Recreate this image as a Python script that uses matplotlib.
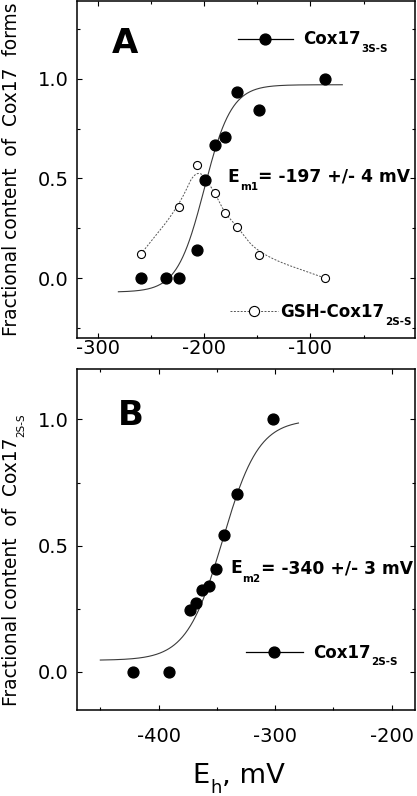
import numpy as np
import matplotlib
matplotlib.use('Agg')
import matplotlib.pyplot as plt
from matplotlib.lines import Line2D
from matplotlib.ticker import MultipleLocator, FormatStrFormatter

plt.rcParams['font.family'] = ['DejaVu Sans']
plt.rcParams['axes.unicode_minus'] = False

# ---------------- data ----------------
# Panel A
eh_a = [-260, -236, -224, -207, -199, -190, -181, -169, -148.5, -86]
cox17_3ss = [0.0, 0.0, 0.0, 0.14, 0.49, 0.667, 0.71, 0.933, 0.843, 1.0]
eh_a_gsh = [-260, -224, -207, -190, -181, -169, -148.5, -86]
gsh_cox17_2ss = [0.12, 0.358, 0.567, 0.428, 0.328, 0.258, 0.117, 0.0]
# Nernst fit parameters (panel A)
fit_a_em, fit_a_slope, fit_a_bottom, fit_a_top = -200.0, 12.8, -0.07, 0.97
fit_a_range = (-281, -70)

# Panel B
eh_b = [-422, -391, -373, -367.5, -362.5, -356.5, -351, -343.5, -333, -301.5]
cox17_2ss = [0.0, 0.0, 0.246, 0.271, 0.324, 0.339, 0.409, 0.541, 0.703, 1.0]
fit_b_em, fit_b_slope, fit_b_bottom, fit_b_top = -345.0, 15.5, 0.045, 1.0
fit_b_range = (-450, -280)

xticks_a = [-300, -200, -100]
xticks_b = [-400, -300, -200]
yticks_a = [0.0, 0.5, 1.0]
yticks_b = [0.0, 0.5, 1.0]


def nernst(e, em, s, lo, hi):
    return lo + (hi - lo) / (1.0 + np.exp(-(e - em) / s))


def bspline2(x, y, n=40):
    P = np.column_stack([x, y]).astype(float)
    Q = np.vstack([P[0], P, P[-1]])
    t = np.linspace(0, 1, n)[:, None]
    out = []
    for i in range(len(Q) - 2):
        A, B, C = Q[i], Q[i + 1], Q[i + 2]
        seg = 0.5 * (1 - t) ** 2 * A + (-t ** 2 + t + 0.5) * B + 0.5 * t ** 2 * C
        out.append(seg)
    out = np.vstack(out)
    return out[:, 0], out[:, 1]


def sub_text(ax, x, y, main, sub, rest, fs, sfs, drop, weight):
    t1 = ax.text(x, y, main, transform=ax.transAxes, fontsize=fs,
                 fontweight=weight, va='baseline', ha='left')
    t2 = ax.annotate(sub, xy=(1, y), xycoords=(t1, ax.transAxes),
                     xytext=(0.3, -drop), textcoords='offset points',
                     fontsize=sfs, fontweight=weight, va='baseline', ha='left',
                     annotation_clip=False)
    if rest:
        ax.annotate(rest, xy=(1, y), xycoords=(t2, ax.transAxes),
                    xytext=(0.3, 0), textcoords='offset points',
                    fontsize=fs, fontweight=weight, va='baseline', ha='left',
                    annotation_clip=False)


def legend_sub(ax, leg, sub, sfs, off):
    t = leg.get_texts()[0]
    ax.annotate(sub, xy=(1, 0), xycoords=t, xytext=(0.3, off),
                textcoords='offset points', fontsize=sfs, fontweight='bold',
                va='baseline', ha='left', annotation_clip=False, zorder=20)


W, H = 417, 796
fig = plt.figure(figsize=(W / 100, H / 100), dpi=100)
axA = fig.add_axes([77 / W, 1 - 338 / H, 338 / W, 337 / H])
axB = fig.add_axes([77 / W, 1 - 709.5 / H, 338 / W, 340.5 / H])

TICK_FS = 14
FILL_MS = 7.8
OPEN_MS = 5.8
CURVE_C = '#3a3a3a'
LEG_FS = 12
LEG_SFS = 7.5
YL_FS = 13.4

for ax in (axA, axB):
    for sp in ax.spines.values():
        sp.set_linewidth(1.1)
    ax.tick_params(which='both', direction='in', top=True, right=True,
                   width=0.8, labelsize=TICK_FS)
    ax.tick_params(which='major', length=3.8)
    ax.tick_params(which='minor', length=2.2)
    ax.tick_params(axis='y', pad=6)

# ---------- Panel A ----------
ea = np.linspace(*fit_a_range, 300)
axA.plot(ea, nernst(ea, fit_a_em, fit_a_slope, fit_a_bottom, fit_a_top),
         color=CURVE_C, lw=0.8)
sx, sy = bspline2(eh_a_gsh, gsh_cox17_2ss)
axA.plot(sx, sy, color='#555555', lw=0.7, ls=(0, (2, 1.5)))
axA.plot(eh_a, cox17_3ss, 'o', color='black', ms=FILL_MS, mec='black')
axA.plot(eh_a_gsh, gsh_cox17_2ss, 'o', mfc='white', mec='black',
         ms=OPEN_MS, mew=0.8)
axA.set_xlim(-320, -1.5)
axA.set_ylim(-0.3, 1.39)
axA.set_xticks(xticks_a)
axA.set_yticks(yticks_a)
axA.xaxis.set_minor_locator(MultipleLocator(50))
axA.yaxis.set_minor_locator(MultipleLocator(0.25))
axA.yaxis.set_major_formatter(FormatStrFormatter('%.1f'))
axA.tick_params(axis='x', pad=1.0)
axA.set_ylabel('Fractional content  of  Cox17  forms', fontsize=YL_FS)
axA.yaxis.set_label_coords(-0.165, 0.5)

axA.text(0.104, 0.846, 'A', transform=axA.transAxes, fontsize=24.5,
         fontweight='bold', va='baseline', ha='left')
sub_text(axA, 0.446, 0.464, 'E', 'm1', '= -197 +/- 4 mV', 12.3, 7.5, 6.1, 'bold')

h1 = Line2D([], [], color='black', lw=0.9, marker='o', ms=FILL_MS)
leg1 = axA.legend([h1], ['Cox17'], loc='center left',
                  bbox_to_anchor=(0.475, 0.886), frameon=False, borderpad=0,
                  borderaxespad=0, handlelength=3.3, handletextpad=0.66,
                  prop={'weight': 'bold', 'size': LEG_FS})
axA.add_artist(leg1)
legend_sub(axA, leg1, '3S-S', LEG_SFS, -2.7)
h2 = Line2D([], [], color='#555555', lw=0.7, ls=(0, (2, 1.5)), marker='o',
            ms=OPEN_MS + 1.5, mfc='white', mec='black', mew=0.8)
leg2 = axA.legend([h2], ['GSH-Cox17'], loc='center left',
                  bbox_to_anchor=(0.453, 0.077), frameon=False, borderpad=0,
                  borderaxespad=0, handlelength=2.9, handletextpad=0.1,
                  prop={'weight': 'bold', 'size': LEG_FS})
legend_sub(axA, leg2, '2S-S', LEG_SFS, -2.7)

# ---------- Panel B ----------
eb = np.linspace(*fit_b_range, 300)
axB.plot(eb, nernst(eb, fit_b_em, fit_b_slope, fit_b_bottom, fit_b_top),
         color=CURVE_C, lw=0.8)
axB.plot(eh_b, cox17_2ss, 'o', color='black', ms=FILL_MS, mec='black')
axB.set_xlim(-470, -180)
axB.set_ylim(-0.15, 1.2)
axB.set_xticks(xticks_b)
axB.set_yticks(yticks_b)
axB.xaxis.set_minor_locator(MultipleLocator(50))
axB.yaxis.set_minor_locator(MultipleLocator(0.25))
axB.yaxis.set_major_formatter(FormatStrFormatter('%.1f'))
axB.tick_params(axis='x', pad=12.5)
axB.set_ylabel('Fractional content  of  Cox17', fontsize=YL_FS)
axB.yaxis.set_label_coords(-0.165, 0.405)
axB.annotate('2S-S', xy=(1, 1), xycoords=axB.yaxis.label, xytext=(3.6, 0.5),
             textcoords='offset points', rotation=90, ha='right', va='bottom',
             fontsize=7.5, annotation_clip=False)

# x label "E_h, mV"
sub_text(axB, 0.342, -0.216, 'E', 'h', ', mV', 19.7, 13, 7.4, 'normal')

axB.text(0.121, 0.8355, 'B', transform=axB.transAxes, fontsize=24.5,
         fontweight='bold', va='baseline', ha='left')
sub_text(axB, 0.4527, 0.40, 'E', 'm2', '= -340 +/- 3 mV', 12.3, 7.5, 6.1, 'bold')
h3 = Line2D([], [], color='black', lw=0.9, marker='o', ms=FILL_MS)
leg3 = axB.legend([h3], ['Cox17'], loc='center left',
                  bbox_to_anchor=(0.5, 0.167), frameon=False, borderpad=0,
                  borderaxespad=0, handlelength=3.4, handletextpad=0.6,
                  prop={'weight': 'bold', 'size': LEG_FS})
legend_sub(axB, leg3, '2S-S', LEG_SFS, -2.7)

fig.savefig('out.png', dpi=100)
